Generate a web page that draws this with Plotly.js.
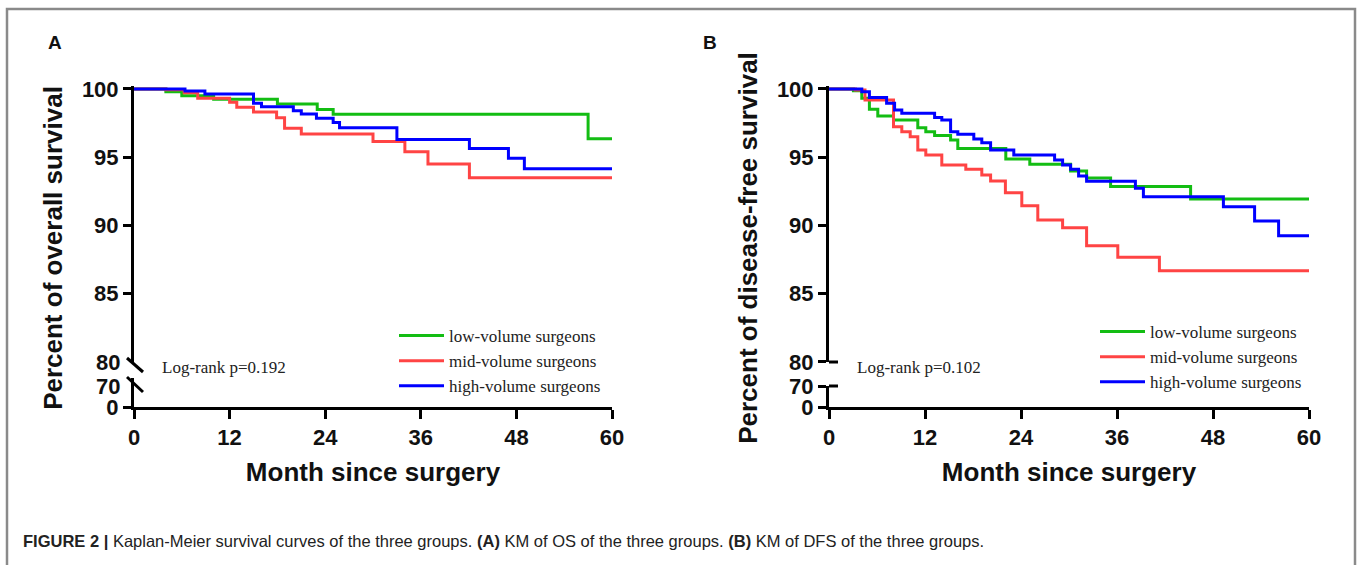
<!DOCTYPE html>
<html><head><meta charset="utf-8">
<script src="https://cdn.plot.ly/plotly-3.0.1.min.js"></script>
<style>html,body{margin:0;padding:0;background:#fff}#chart{width:1360px;height:565px}</style>
</head><body><div id="chart"></div>
<script>
// ---------- data ----------
const groupNames = ['low-volume surgeons', 'mid-volume surgeons', 'high-volume surgeons'];
const monthTicks = [0, 12, 24, 36, 48, 60];
const upperTicks = [80, 85, 90, 95, 100];

// Panel A: overall survival (%)
const osLowT  = [0, 4, 6, 10, 18, 23, 25, 57, 60];
const osLowS  = [100, 99.8, 99.5, 99.25, 98.9, 98.5, 98.15, 96.35, 96.35];
const osMidT  = [0, 4, 6.3, 8, 12, 12.9, 15, 17.9, 18.9, 21, 30, 34, 36.9, 42.1, 60];
const osMidS  = [100, 99.95, 99.73, 99.32, 99.03, 98.66, 98.32, 97.9, 97.12, 96.7, 96.15, 95.4, 94.5, 93.5, 93.5];
const osHighT = [0, 6.4, 8.9, 15, 16, 20, 21, 22.9, 25, 25.8, 33, 42.1, 47, 49, 60];
const osHighS = [100, 99.85, 99.63, 98.95, 98.7, 98.4, 98.17, 97.85, 97.54, 97.17, 96.3, 95.65, 94.92, 94.16, 94.16];

// Panel B: disease-free survival (%)
const dfsLowT  = [0, 3.05, 4.1, 5.05, 6.1, 8.06, 11.1, 12.1, 13.2, 15.2, 16.1, 22.1, 25.1, 30.2, 32.2, 35.2, 45.2, 60];
const dfsLowS  = [100, 99.88, 99.32, 98.51, 98.02, 97.73, 97.17, 96.87, 96.6, 96.26, 95.65, 94.87, 94.48, 93.99, 93.48, 92.85, 91.94, 91.94];
const dfsMidT  = [0, 3.3, 4.5, 8.06, 9.1, 10.15, 11.1, 12.1, 14.1, 17.1, 19.1, 20.2, 22.05, 24.1, 26.1, 29.2, 32.2, 36.1, 41.3, 60];
const dfsMidS  = [100, 99.93, 99.19, 97.24, 96.87, 96.5, 95.53, 95.16, 94.43, 94.12, 93.7, 93.26, 92.4, 91.45, 90.4, 89.84, 88.52, 87.67, 86.69, 86.69];
const dfsHighT = [0, 4.1, 5.05, 7.2, 8.2, 9.1, 13.2, 14.1, 15.2, 16.1, 18.1, 19.1, 20.2, 23.1, 28.2, 29.2, 30.2, 31.2, 32.2, 38.3, 39.3, 49.3, 53.2, 56.2, 60];
const dfsHighS = [100, 99.8, 99.37, 98.95, 98.46, 98.22, 97.92, 97.73, 96.87, 96.68, 96.34, 96.07, 95.53, 95.16, 94.8, 94.43, 94.12, 93.63, 93.24, 92.73, 92.11, 91.38, 90.33, 89.25, 89.25];

// ---------- styling ----------
const W = 1360, H = 565;
const fx = p => p / W, fy = p => 1 - p / H;
const colors = ['#13bd13', '#ff4444', '#0000ff'];
const SANS = 'Liberation Sans, Arial, sans-serif';
const SERIF = 'Liberation Serif, Times New Roman, serif';
const tickFont = {family: SANS, size: 22, color: '#111', weight: 'bold'};
const titleFont = {family: SANS, size: 26, color: '#111', weight: 'bold'};

function km(t, s, i, xa, ya, leg) {
  return {x: t, y: s, type: 'scatter', mode: 'lines', line: {shape: 'hv', color: colors[i], width: 3},
          name: groupNames[i], xaxis: xa, yaxis: ya, legend: leg, hoverinfo: 'x+y+name'};
}
function holder(xa, ya) {
  return {x: [], y: [], type: 'scatter', mode: 'lines', xaxis: xa, yaxis: ya, showlegend: false, hoverinfo: 'skip'};
}

const traces = [
  km(osLowT, osLowS, 0, 'x', 'y', 'legend'),
  km(osMidT, osMidS, 1, 'x', 'y', 'legend'),
  km(osHighT, osHighS, 2, 'x', 'y', 'legend'),
  km(dfsLowT, dfsLowS, 0, 'x2', 'y6', 'legend2'),
  km(dfsMidT, dfsMidS, 1, 'x2', 'y6', 'legend2'),
  km(dfsHighT, dfsHighS, 2, 'x2', 'y6', 'legend2'),
  holder('x', 'y2'), holder('x', 'y3'), holder('x', 'y4'), holder('x', 'y5'),
  holder('x2', 'y7'), holder('x2', 'y8')
];

const upperDom = [fy(362), fy(89 - 0.25 * 13.65)];
const lowerDomB = [fy(407), fy(386)];
const lowerDomA = [fy(407), fy(378)];
const fullDom = [fy(407), fy(89)];

const axBase = {showgrid: false, zeroline: false, showline: true, linecolor: '#000', linewidth: 3,
  ticks: 'outside', ticklen: 8, tickwidth: 3, tickcolor: '#000', tickfont: tickFont, fixedrange: true};

function xAxis(dom, anchor) {
  return Object.assign({}, axBase, {domain: dom, anchor: anchor, range: [0, 60], tickvals: monthTicks,
    ticklen: 9, title: {text: 'Month since surgery', font: titleFont, standoff: 14}});
}
function yUpper(anchor, tv) {
  return Object.assign({}, axBase, {domain: upperDom, anchor: anchor, range: [80, 100.25], tickvals: tv});
}
function yLabelOnly(over, anchor, range, tv) {
  return Object.assign({}, axBase, {overlaying: over, anchor: anchor, range: range, tickvals: tv,
    showline: false, tickcolor: 'rgba(0,0,0,0)'});
}
function yTitleAxis(dom, text, pos) {
  return {domain: dom, anchor: 'free', position: pos, range: [0, 1], showline: false, showgrid: false,
    zeroline: false, showticklabels: false, ticks: '', fixedrange: true,
    title: {text: text, font: titleFont, standoff: 62}};
}

const xDomA = [fx(134), fx(612)], xDomB = [fx(829), fx(1309)];
const brk = {color: '#000', width: 3};

const layout = {
  width: W, height: H, margin: {l: 0, r: 0, t: 0, b: 0}, paper_bgcolor: '#fff', plot_bgcolor: 'rgba(0,0,0,0)',
  showlegend: true,
  // Panel A
  xaxis: xAxis(xDomA, 'y2'),
  yaxis: yUpper('x', [85, 90, 95, 100]),
  yaxis2: Object.assign({}, axBase, {domain: lowerDomA, anchor: 'x', range: [0, 70 * 29 / 21], tickvals: [0]}),
  yaxis3: yLabelOnly('y', 'x', [80, 100.25], [80]),
  yaxis4: yLabelOnly('y2', 'x', [0, 70 * 29 / 21], [70]),
  yaxis5: yTitleAxis(fullDom, 'Percent of overall survival', xDomA[0]),
  // Panel B
  xaxis2: xAxis(xDomB, 'y7'),
  yaxis6: yUpper('x2', upperTicks),
  yaxis7: Object.assign({}, axBase, {domain: lowerDomB, anchor: 'x2', range: [0, 70], tickvals: [0, 70]}),
  yaxis8: yTitleAxis(fullDom, 'Percent of disease-free survival', xDomB[0]),
  legend: {x: fx(394), y: fy(318), xanchor: 'left', yanchor: 'top', bgcolor: 'rgba(0,0,0,0)', itemwidth: 45,
    font: {family: SERIF, size: 17, color: '#222'}, traceorder: 'normal'},
  legend2: {x: fx(1095), y: fy(314), xanchor: 'left', yanchor: 'top', bgcolor: 'rgba(0,0,0,0)', itemwidth: 45,
    font: {family: SERIF, size: 17, color: '#222'}, traceorder: 'normal'},
  shapes: [
    // figure frame
    {type: 'rect', xref: 'paper', yref: 'paper', x0: fx(7), x1: fx(1355), y0: -0.05, y1: fy(9),
     line: {color: '#8a8a8a', width: 2.5}, layer: 'below'},
    // axis break marks, panel A
    {type: 'line', xref: 'paper', yref: 'paper', x0: fx(127), x1: fx(143), y0: fy(358), y1: fy(372), line: brk},
    {type: 'line', xref: 'paper', yref: 'paper', x0: fx(127), x1: fx(143), y0: fy(377), y1: fy(392), line: brk},
    // axis break marks, panel B (inner halves)
    {type: 'line', xref: 'paper', yref: 'paper', x0: fx(829), x1: fx(838), y0: fy(362), y1: fy(362), line: brk},
    {type: 'line', xref: 'paper', yref: 'paper', x0: fx(829), x1: fx(838), y0: fy(386), y1: fy(386), line: brk}
  ],
  annotations: [
    {text: '<b>A</b>', xref: 'paper', yref: 'paper', x: fx(55), y: fy(43), xanchor: 'center', yanchor: 'middle',
     showarrow: false, font: {family: SANS, size: 19, color: '#111'}},
    {text: '<b>B</b>', xref: 'paper', yref: 'paper', x: fx(710), y: fy(43), xanchor: 'center', yanchor: 'middle',
     showarrow: false, font: {family: SANS, size: 19, color: '#111'}},
    {text: 'Log-rank p=0.192', xref: 'paper', yref: 'paper', x: fx(160), y: fy(367), xanchor: 'left', yanchor: 'middle',
     showarrow: false, font: {family: SERIF, size: 17, color: '#222'}},
    {text: 'Log-rank p=0.102', xref: 'paper', yref: 'paper', x: fx(855), y: fy(367), xanchor: 'left', yanchor: 'middle',
     showarrow: false, font: {family: SERIF, size: 17, color: '#222'}},
    {text: '<b>FIGURE 2 |</b> Kaplan-Meier survival curves of the three groups. <b>(A)</b> KM of OS of the three groups. <b>(B)</b> KM of DFS of the three groups.',
     xref: 'paper', yref: 'paper', x: fx(21), y: fy(541), xanchor: 'left', yanchor: 'middle', showarrow: false,
     font: {family: SANS, size: 16.5, color: '#222'}}
  ]
};

Plotly.newPlot('chart', traces, layout, {displayModeBar: false, staticPlot: true});
</script></body></html>
